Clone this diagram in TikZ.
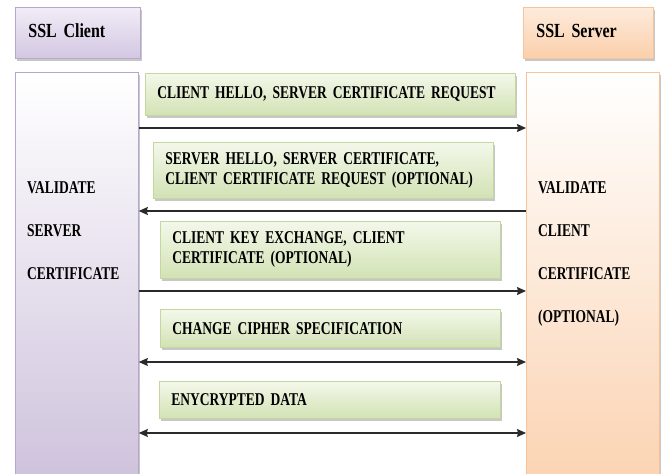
\documentclass[tikz,border=0pt]{standalone}
\usepackage{fontspec}
\setmainfont{Liberation Serif}
\newfontfamily\diagfont{Liberation Serif}[FakeStretch=0.75,WordSpace=0.6]
\newfontfamily\headfont{Liberation Serif}[FakeStretch=0.8,WordSpace=0.6]
\usetikzlibrary{shadows,arrows.meta}

\definecolor{lavTop}{HTML}{F1ECF6}
\definecolor{lavBot}{HTML}{D3C7E2}
\definecolor{lavEdge}{HTML}{B7A6CF}
\definecolor{lavColBot}{HTML}{CEC2DC}
\definecolor{peachTop}{HTML}{FDEBDD}
\definecolor{peachBot}{HTML}{FBCFAA}
\definecolor{peachEdge}{HTML}{F6C39B}
\definecolor{peachColBot}{HTML}{FBD3B2}
\definecolor{greenTop}{HTML}{F3F8EA}
\definecolor{greenBot}{HTML}{D2E2B4}
\definecolor{greenEdge}{HTML}{C3D79E}
\definecolor{arrowInk}{HTML}{2A2A2A}

\begin{document}
\begin{tikzpicture}[x=1pt,y=-1pt,
  boxshadow/.style={drop shadow={shadow xshift=2pt,shadow yshift=-3pt,fill=black,opacity=.22}},
  panel/.style={anchor=north west,inner ysep=0pt,inner xsep=12pt,align=left,
    line width=0.8pt,boxshadow},
  titlebox/.style={panel,font=\headfont\bfseries\fontsize{20}{22}\selectfont},
  clientstyle/.style={draw=lavEdge,top color=lavTop,bottom color=lavBot},
  serverstyle/.style={draw=peachEdge,top color=peachTop,bottom color=peachBot},
  column/.style={anchor=north west,inner sep=0pt,line width=0.8pt,boxshadow},
  msgbox/.style={panel,draw=greenEdge,top color=greenTop,bottom color=greenBot,
    font=\diagfont\bfseries\fontsize{18}{20}\selectfont},
  sidetext/.style={anchor=north west,inner sep=0pt,align=left,
    font=\diagfont\bfseries\fontsize{18}{43}\selectfont},
  msgarrow/.style={draw=arrowInk,line width=1.2pt,
    arrows={-Stealth[length=9pt,width=8pt,inset=1pt]}},
  bothways/.style={msgarrow,
    arrows={Stealth[length=9pt,width=8pt,inset=1pt]-Stealth[length=9pt,width=8pt,inset=1pt]}}]

\clip (0,0) rectangle (665,474);
\fill[white] (0,0) rectangle (665,474);

% party headers
\node[titlebox,clientstyle,minimum width=123pt,minimum height=51pt,text width=99pt,
  inner xsep=13pt,text depth=5pt] (client) at (15,7) {SSL Client};
\node[titlebox,serverstyle,minimum width=130pt,minimum height=51pt,text width=104pt,
  inner xsep=13pt,text depth=5pt] (server) at (523,7) {SSL Server};

% lifeline columns
\node[column,draw=lavEdge,top color=white,bottom color=lavColBot,
  minimum width=123pt,minimum height=410pt] (lcol) at (15,72) {};
\node[column,draw=peachEdge,top color=white,bottom color=peachColBot,
  minimum width=133pt,minimum height=410pt] (rcol) at (526,72) {};

\node[sidetext] (lcheck) at (27,181) {VALIDATE\\SERVER\\CERTIFICATE};
\node[sidetext] (rcheck) at (538,181) {VALIDATE\\CLIENT\\CERTIFICATE\\(OPTIONAL)};

% handshake messages
\node[msgbox,minimum width=370pt,minimum height=42pt,text width=346pt] (m1) at (145,73)
  {CLIENT HELLO, SERVER CERTIFICATE REQUEST};
\node[msgbox,minimum width=340pt,minimum height=56pt,text width=316pt] (m2) at (153,142)
  {SERVER HELLO, SERVER CERTIFICATE,\\CLIENT CERTIFICATE REQUEST (OPTIONAL)};
\node[msgbox,minimum width=340pt,minimum height=57pt,text width=316pt] (m3) at (160,221)
  {CLIENT KEY EXCHANGE, CLIENT\\CERTIFICATE (OPTIONAL)};
\node[msgbox,minimum width=340pt,minimum height=38pt,text width=316pt] (m4) at (160,309)
  {CHANGE CIPHER SPECIFICATION};
\node[msgbox,minimum width=341pt,minimum height=37pt,text width=317pt] (m5) at (159,381)
  {ENYCRYPTED DATA};

% message arrows between the lifelines
\coordinate (h1) at (0,128);
\coordinate (h2) at (0,211);
\coordinate (h3) at (0,291);
\coordinate (h4) at (0,362);
\coordinate (h5) at (0,433);
\draw[msgarrow] (lcol.east |- h1) -- (rcol.west |- h1);
\draw[msgarrow] (rcol.west |- h2) -- (lcol.east |- h2);
\draw[msgarrow] (lcol.east |- h3) -- (rcol.west |- h3);
\draw[bothways] (lcol.east |- h4) -- (rcol.west |- h4);
\draw[bothways] (lcol.east |- h5) -- (rcol.west |- h5);
\end{tikzpicture}
\end{document}
